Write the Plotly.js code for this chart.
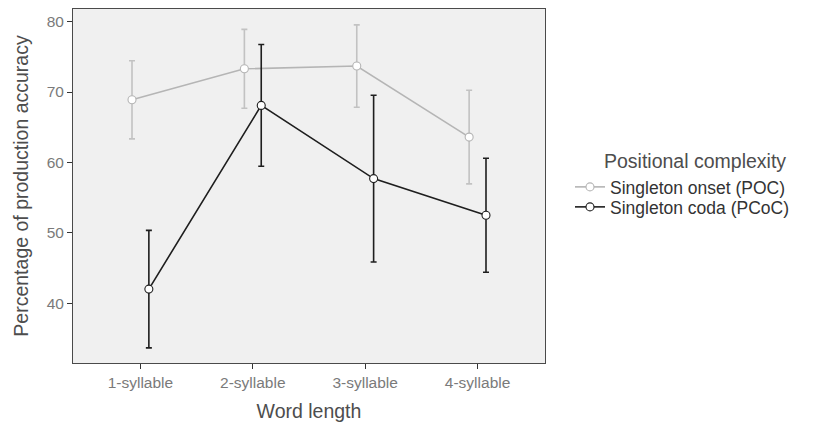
<!DOCTYPE html>
<html>
<head>
<meta charset="utf-8">
<script src="https://cdn.plot.ly/plotly-3.0.1.min.js"></script>
<style>
html,body{margin:0;padding:0;background:#fff;}
#chart{width:821px;height:424px;}
</style>
</head>
<body>
<div id="chart"></div>
<script>
// Data
const categories = ["1-syllable", "2-syllable", "3-syllable", "4-syllable"];
const seriesNames = ["Singleton onset (POC)", "Singleton coda (PCoC)"];
const pocMean = [68.9, 73.3, 73.7, 63.6];
const pocErr  = [5.55, 5.6, 5.85, 6.65];
const pcocMean = [42.0, 68.1, 57.7, 52.5];
const pcocErr  = [8.35, 8.65, 11.85, 8.1];
const yTicks = [40, 50, 60, 70, 80];
const legendTitle = "Positional complexity";
const xTitle = "Word length";
const yTitle = "Percentage of production accuracy";

const dodge = 0.075;
const catIdx = categories.map((c, i) => i + 1);

function makeTrace(name, means, errs, color, errColor, offset, legendId) {
  return {
    type: "scatter",
    mode: "lines+markers",
    name: name,
    legend: legendId,
    x: catIdx.map(v => v + offset),
    y: means,
    line: {color: color, width: 1.6},
    marker: {size: 8, color: "#ffffff", line: {color: color, width: 1.1}},
    error_y: {type: "data", array: errs, visible: true, color: errColor, thickness: 1.6, width: 3},
    hoverinfo: "x+y"
  };
}

const traces = [
  makeTrace(seriesNames[0], pocMean, pocErr, "#b5b5b5", "#c2c2c2", -dodge, "legend"),
  makeTrace(seriesNames[1], pcocMean, pcocErr, "#1e1e1e", "#1e1e1e", dodge, "legend2")
];

const plotL = 73, plotT = 9, plotW = 472, plotH = 354;
function px2x(px) { return (px - plotL) / plotW; }
function px2y(py) { return 1 - (py - plotT) / plotH; }

const legendBase = {
  xanchor: "left", xref: "paper", yref: "paper",
  yanchor: "middle",
  font: {size: 17.5, color: "#333"},
  bgcolor: "rgba(0,0,0,0)",
  itemwidth: 30
};

const layout = {
  width: 821,
  height: 424,
  margin: {l: plotL, r: 821 - plotL - plotW, t: plotT, b: 424 - plotT - plotH},
  paper_bgcolor: "#ffffff",
  plot_bgcolor: "#f0f0f0",
  font: {family: "Liberation Sans, Arial, sans-serif", color: "#555"},
  showlegend: true,
  legend: Object.assign({}, legendBase, {x: px2x(570), y: px2y(187)}),
  legend2: Object.assign({}, legendBase, {x: px2x(570), y: px2y(207)}),
  annotations: [{
    text: legendTitle,
    xref: "paper", yref: "paper",
    x: px2x(602), y: px2y(161),
    xanchor: "left", yanchor: "middle",
    showarrow: false,
    font: {size: 19.5, color: "#4d4d4d"}
  }],
  xaxis: {
    range: [0.4, 4.6],
    tickmode: "array",
    tickvals: catIdx,
    ticktext: categories,
    showgrid: false,
    zeroline: false,
    showline: true,
    mirror: true,
    linecolor: "#4a4a4a",
    linewidth: 1,
    ticks: "outside",
    ticklen: 5,
    tickwidth: 1,
    tickcolor: "#333",
    tickfont: {size: 15.5, color: "#7a7a7a"},
    title: {text: xTitle, font: {size: 19.5, color: "#4d4d4d"}, standoff: 14}
  },
  yaxis: {
    range: [31.5, 81.8],
    tickmode: "array",
    tickvals: yTicks,
    showgrid: false,
    zeroline: false,
    showline: true,
    mirror: true,
    linecolor: "#4a4a4a",
    linewidth: 1,
    ticks: "outside",
    ticklen: 5,
    tickwidth: 1,
    tickcolor: "#333",
    tickfont: {size: 15.5, color: "#7a7a7a"},
    title: {text: yTitle, font: {size: 19.5, color: "#4d4d4d"}, standoff: 12}
  }
};

Plotly.newPlot("chart", traces, layout, {displayModeBar: false, staticPlot: true});
</script>
</body>
</html>
